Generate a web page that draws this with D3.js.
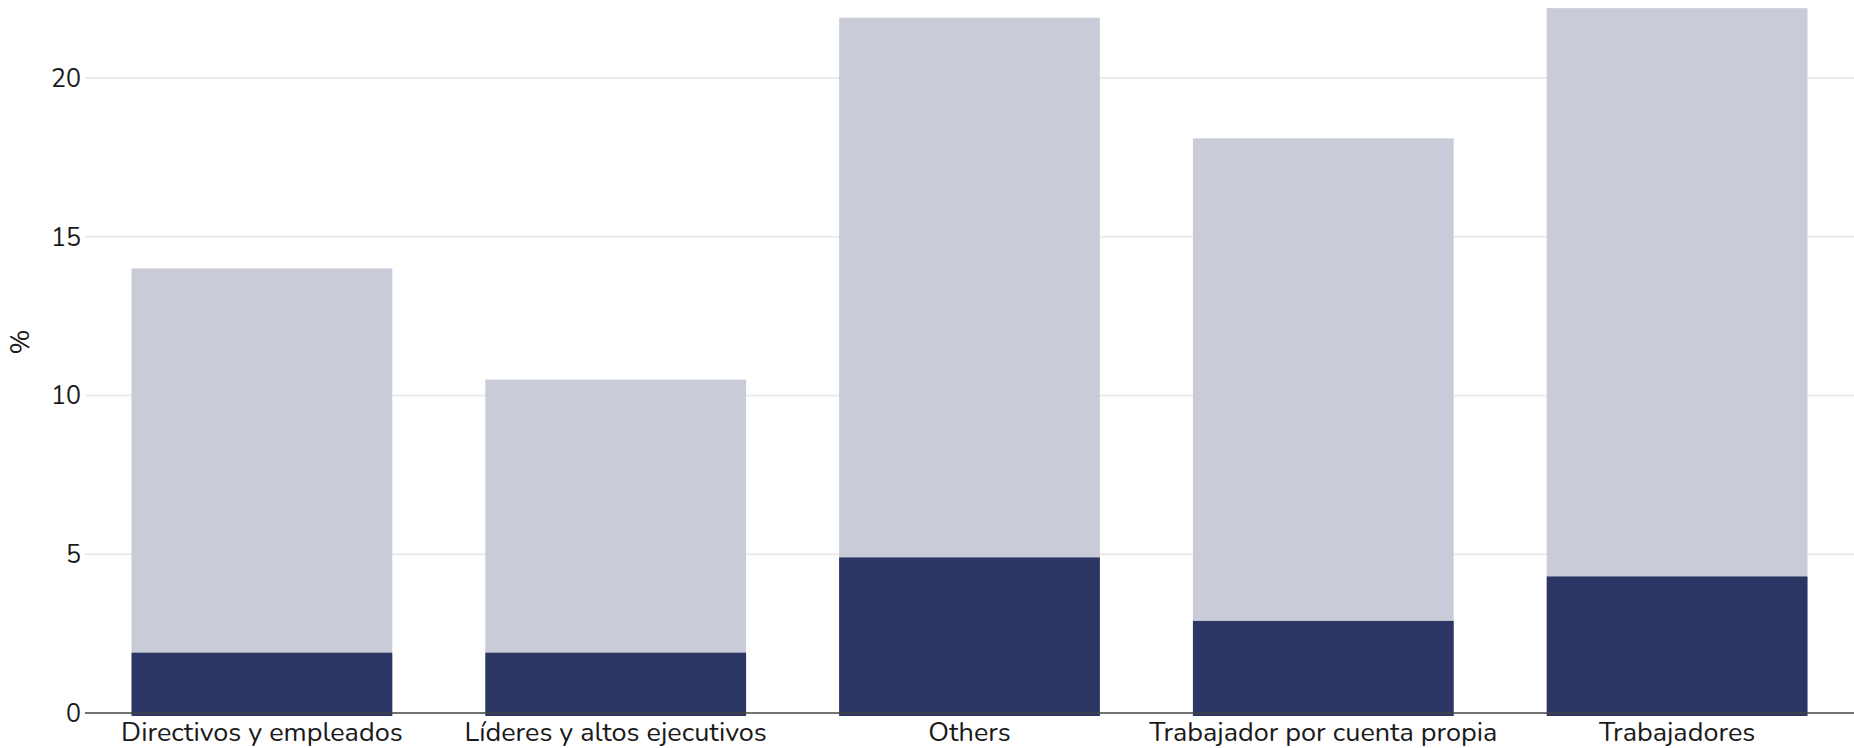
<!DOCTYPE html>
<html>
<head>
<meta charset="utf-8">
<script src="https://cdn.jsdelivr.net/npm/d3@7"></script>
<style>
  body { margin: 0; background: #fff; }
  text { font-family: "Nunito", "Lato", sans-serif; fill: #1a1a1a; }
</style>
</head>
<body>
<div class="chart-output"></div>
<script>
var categories = ["Directivos y empleados", "Líderes y altos ejecutivos", "Others",
                  "Trabajador por cuenta propia", "Trabajadores"];
var totalValues = [14.0, 10.5, 21.9, 18.1, 22.2];
var subValues = [1.9, 1.9, 4.9, 2.9, 4.3];
var yTicks = [0, 5, 10, 15, 20];

var w = 1854;
var h = 748;
var plotLeft = 85, plotRight = 1854, zeroY = 713, y20 = 78;

var svg = d3.select(".chart-output")
            .append("svg")
            .attr("width", w)
            .attr("height", h);

var x = d3.scaleBand()
          .domain(categories)
          .range([plotLeft, plotRight])
          .paddingInner(0.263)
          .paddingOuter(0.1315);

// 20 sits at y=78
var y = d3.scaleLinear()
          .domain([0, 20])
          .range([zeroY, y20]);

// grid
svg.append("g")
   .selectAll("line")
   .data(yTicks.slice(1))
   .enter()
   .append("line")
   .attr("x1", plotLeft)
   .attr("x2", plotRight)
   .attr("y1", function(d) { return y(d); })
   .attr("y2", function(d) { return y(d); })
   .attr("stroke", "#ebebeb")
   .attr("stroke-width", 2);

// light bars (total)
svg.append("g")
   .selectAll("rect")
   .data(totalValues)
   .enter()
   .append("rect")
   .attr("x", function(d, i) { return x(categories[i]); })
   .attr("y", function(d) { return y(d); })
   .attr("width", x.bandwidth())
   .attr("height", function(d) { return y(0) - y(d) + 3; })
   .attr("fill", "#c9ccd8");

// dark bars
svg.append("g")
   .selectAll("rect")
   .data(subValues)
   .enter()
   .append("rect")
   .attr("x", function(d, i) { return x(categories[i]); })
   .attr("y", function(d) { return y(d); })
   .attr("width", x.bandwidth())
   .attr("height", function(d) { return y(0) - y(d) + 3; })
   .attr("fill", "#2b3664");

// zero line
svg.append("line")
   .attr("x1", plotLeft)
   .attr("x2", plotRight)
   .attr("y1", y(0))
   .attr("y2", y(0))
   .attr("stroke", "#444")
   .attr("stroke-width", 1.5);

// y tick labels
svg.append("g")
   .selectAll("text")
   .data(yTicks)
   .enter()
   .append("text")
   .attr("x", plotLeft - 4)
   .attr("y", function(d) { return y(d); })
   .attr("dy", "0.35em")
   .attr("text-anchor", "end")
   .attr("font-size", 25)
   .text(function(d) { return d; });

// x labels
svg.append("g")
   .selectAll("text")
   .data(categories)
   .enter()
   .append("text")
   .attr("x", function(d) { return x(d) + x.bandwidth() / 2; })
   .attr("y", 741)
   .attr("text-anchor", "middle")
   .attr("font-size", 27)
   .text(function(d) { return d; });

// y title
svg.append("text")
   .attr("transform", "translate(29,342) rotate(-90)")
   .attr("text-anchor", "middle")
   .attr("font-size", 27)
   .text("%");
</script>
</body>
</html>
